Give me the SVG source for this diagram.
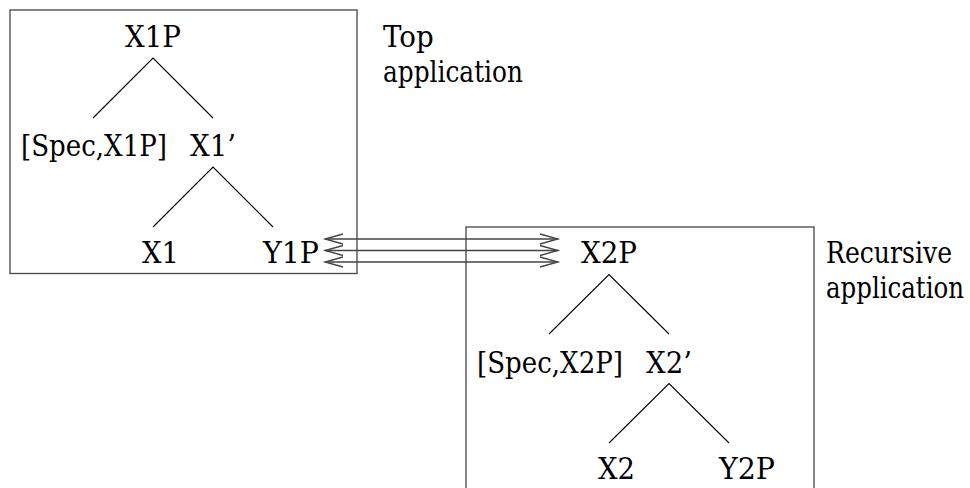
<svg xmlns="http://www.w3.org/2000/svg" width="970" height="488" viewBox="0 0 970 488">
<style>
.box{fill:none;stroke:#444;stroke-width:1.3}
.br{stroke:#000;stroke-width:1.1;fill:none}
.ar{stroke:#444;stroke-width:1.3;fill:none}
</style>
<rect width="970" height="488" fill="#fff"/>
<g id="box-top">
<rect class="box" x="10" y="10" width="347" height="263.5"/>
</g>
<g id="box-rec">
<rect class="box" x="466" y="227" width="348" height="270"/>
</g>
<g font-family="'DejaVu Serif', serif" font-size="29" fill="#000">
<g id="label-top">
<text x="383" y="47" textLength="50.7" lengthAdjust="spacingAndGlyphs">Top</text>
<text x="383" y="82" textLength="140" lengthAdjust="spacingAndGlyphs">application</text>
</g>
<g id="tree-top">
<g id="X1P"><text x="125" y="47" textLength="56" lengthAdjust="spacingAndGlyphs">X1P</text></g>
<g id="Spec-X1P"><text x="21" y="156" textLength="146" lengthAdjust="spacingAndGlyphs">[Spec,X1P]</text></g>
<g id="X1bar"><text x="190" y="156" textLength="46" lengthAdjust="spacingAndGlyphs">X1’</text></g>
<g id="X1"><text x="142" y="262.5" textLength="37" lengthAdjust="spacingAndGlyphs">X1</text></g>
<g id="Y1P"><text x="263" y="262.5" textLength="56" lengthAdjust="spacingAndGlyphs">Y1P</text></g>
<path class="br" d="M93,118 L153,58 L213,118 M153,227 L213,167 L273,227"/>
</g>
<g id="label-rec">
<text x="826" y="263" textLength="126" lengthAdjust="spacingAndGlyphs">Recursive</text>
<text x="826" y="298" textLength="138" lengthAdjust="spacingAndGlyphs">application</text>
</g>
<g id="tree-rec">
<g id="X2P"><text x="581" y="263" textLength="56" lengthAdjust="spacingAndGlyphs">X2P</text></g>
<g id="Spec-X2P"><text x="477" y="372.5" textLength="146" lengthAdjust="spacingAndGlyphs">[Spec,X2P]</text></g>
<g id="X2bar"><text x="646" y="372.5" textLength="46" lengthAdjust="spacingAndGlyphs">X2’</text></g>
<g id="X2"><text x="598" y="478.5" textLength="37" lengthAdjust="spacingAndGlyphs">X2</text></g>
<g id="Y2P"><text x="719" y="478.5" textLength="56" lengthAdjust="spacingAndGlyphs">Y2P</text></g>
<path class="br" d="M549,334 L609,274.5 L669,334 M609,443 L669,383.5 L729,443"/>
</g>
</g>
<g id="connectors">
<path class="ar" d="M325,239 H558 M325,250.5 H558 M325,262 H558"/>
<path class="ar" d="M343,234 L325,239 L343,244 M343,245.5 L325,250.5 L343,255.5 M343,257 L325,262 L343,267"/>
<path class="ar" d="M540,234 L558,239 L540,244 M540,245.5 L558,250.5 L540,255.5 M540,257 L558,262 L540,267"/>
</g>
</svg>
